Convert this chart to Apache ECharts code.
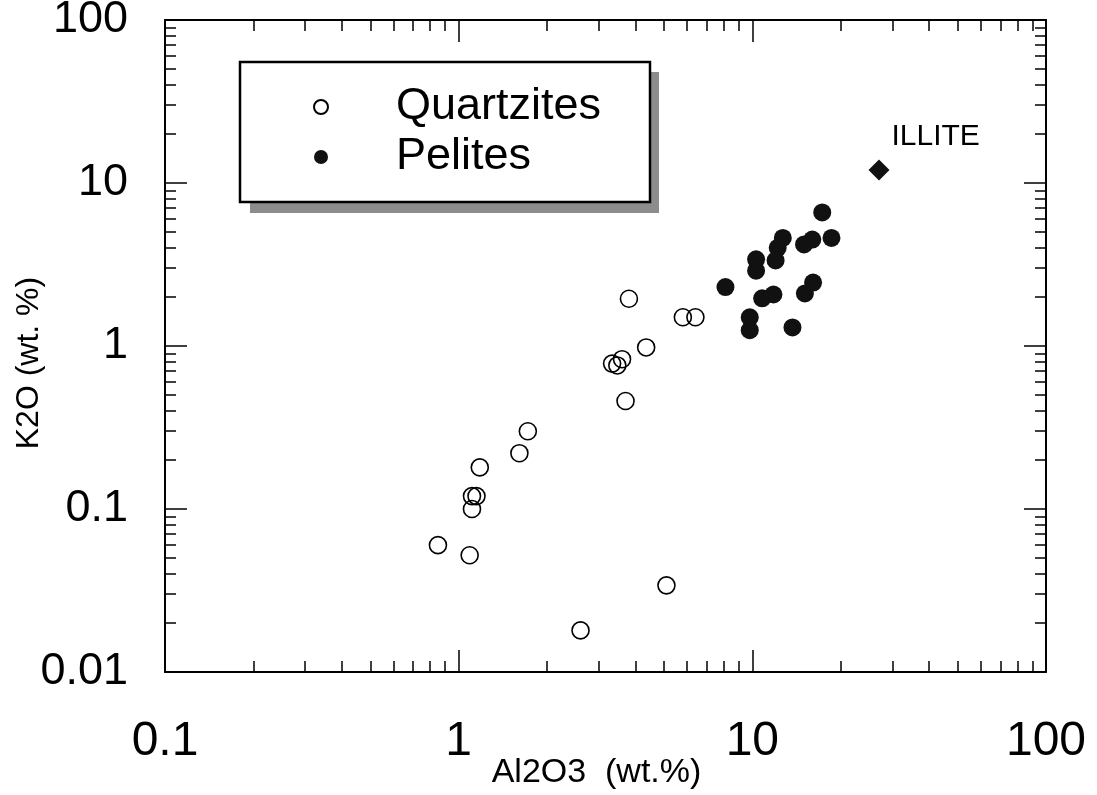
<!DOCTYPE html>
<html>
<head>
<meta charset="utf-8">
<script src="https://cdn.jsdelivr.net/npm/echarts@6/dist/echarts.min.js"></script>
<style>
html,body{margin:0;padding:0;background:#fff;}
#chart{width:1097px;height:795px;}
</style>
</head>
<body>
<div id="chart"></div>
<script>
// ---- data ----
const quartzAl = [0.85, 1.09, 1.11, 1.11, 1.15, 1.18, 1.61, 1.72, 2.6, 5.1, 3.33, 3.47, 3.6, 3.7, 4.35, 3.8, 5.8, 6.4];
const quartzK  = [0.060, 0.052, 0.10, 0.12, 0.12, 0.18, 0.22, 0.30, 0.018, 0.034, 0.78, 0.76, 0.83, 0.46, 0.98, 1.95, 1.5, 1.5];
const peliteAl = [17.3, 12.7, 12.2, 12.0, 15.0, 16.0, 18.6, 10.3, 10.3, 8.1, 10.8, 11.8, 15.1, 16.1, 9.8, 9.8, 13.7];
const peliteK  = [6.6, 4.6, 4.0, 3.35, 4.2, 4.5, 4.6, 3.4, 2.9, 2.3, 1.96, 2.07, 2.1, 2.45, 1.5, 1.25, 1.3];
const illiteAl = [27];
const illiteK  = [12];
const xTickValues = [0.1, 1, 10, 100];
const xTickLabels = ['0.1', '1', '10', '100'];
const yTickValues = [0.01, 0.1, 1, 10, 100];
const yTickLabels = ['0.01', '0.1', '1', '10', '100'];
const xMinorValues = [0.2,0.3,0.4,0.5,0.6,0.7,0.8,0.9, 2,3,4,5,6,7,8,9, 20,30,40,50,60,70,80,90];
const yMinorValues = [0.02,0.03,0.04,0.05,0.06,0.07,0.08,0.09, 0.2,0.3,0.4,0.5,0.6,0.7,0.8,0.9, 2,3,4,5,6,7,8,9, 20,30,40,50,60,70,80,90];
const seriesNames = ['Quartzites', 'Pelites'];

const FONT = '"Liberation Sans", Arial, Helvetica, sans-serif';
const chart = echarts.init(document.getElementById('chart'), null, {renderer: 'canvas'});

function zip(a, b) { return a.map((v, i) => [v, b[i]]); }

function logAxis(base, extra) {
  return Object.assign({
    type: 'log', logBase: 10, gridIndex: 0,
    splitLine: {show: false},
    axisLine: {show: false},
    axisLabel: {show: false},
    axisTick: {show: false}
  }, base, extra);
}

const xRange = {min: 0.1, max: 100};
const yRange = {min: 0.01, max: 100};
const lineStyle = {color: '#000', width: 2};
const tickStyle = {color: '#000', width: 1.5};

const option = {
  backgroundColor: '#fff',
  animation: false,
  grid: {left: 165, right: 51, top: 20, bottom: 123, containLabel: false, outerBoundsMode: 'none'},
  graphic: [{
    type: 'rect', z: 1, silent: true,
    shape: {x: 250, y: 72, width: 409, height: 141},
    style: {fill: '#8c8c8c'}
  }],
  legend: {
    data: seriesNames,
    orient: 'vertical',
    left: 240, top: 62,
    padding: [22, 24, 22, 73],
    itemGap: 4,
    itemWidth: 14, itemHeight: 14,
    backgroundColor: '#fff',
    borderColor: '#000', borderWidth: 2.5, borderRadius: 0,
    z: 5,
    selectedMode: false,
    textStyle: {fontFamily: FONT, fontSize: 45, color: '#000', lineHeight: 46, width: 230, padding: [0, 0, 0, 63]}
  },
  xAxis: [
    logAxis(xRange, {position: 'bottom',
      axisLine: {show: true, lineStyle: lineStyle, onZero: false},
      axisTick: {show: true, inside: true, length: 22, lineStyle: tickStyle, customValues: xTickValues},
      axisLabel: {show: true, margin: 46, fontFamily: FONT, fontSize: 48, color: '#000', customValues: xTickValues,
        formatter: v => xTickLabels[xTickValues.indexOf(v)] ?? String(v)},
      name: 'Al2O3  (wt.%)', nameLocation: 'middle', nameGap: 84, nameMoveOverlap: false,
      nameTextStyle: {fontFamily: FONT, fontSize: 34, color: '#000', padding: [0, 18, 0, 0]}
    }),
    logAxis(xRange, {position: 'bottom',
      axisTick: {show: true, inside: true, length: 11, lineStyle: tickStyle, customValues: xMinorValues}}),
    logAxis(xRange, {position: 'top',
      axisLine: {show: true, lineStyle: lineStyle, onZero: false},
      axisTick: {show: true, inside: true, length: 22, lineStyle: tickStyle, customValues: xTickValues}}),
    logAxis(xRange, {position: 'top',
      axisTick: {show: true, inside: true, length: 11, lineStyle: tickStyle, customValues: xMinorValues}})
  ],
  yAxis: [
    logAxis(yRange, {position: 'left',
      axisLine: {show: true, lineStyle: lineStyle, onZero: false},
      axisTick: {show: true, inside: true, length: 22, lineStyle: tickStyle, customValues: yTickValues},
      axisLabel: {show: true, margin: 37, fontFamily: FONT, fontSize: 45, color: '#000', customValues: yTickValues,
        formatter: v => yTickLabels[yTickValues.indexOf(v)] ?? String(v)},
      name: 'K2O (wt. %)', nameLocation: 'middle', nameGap: 120, nameMoveOverlap: false,
      nameTextStyle: {fontFamily: FONT, fontSize: 32, color: '#000', padding: [0, 34, 0, 0]}
    }),
    logAxis(yRange, {position: 'left',
      axisTick: {show: true, inside: true, length: 11, lineStyle: tickStyle, customValues: yMinorValues}}),
    logAxis(yRange, {position: 'right',
      axisLine: {show: true, lineStyle: lineStyle, onZero: false},
      axisTick: {show: true, inside: true, length: 22, lineStyle: tickStyle, customValues: yTickValues}}),
    logAxis(yRange, {position: 'right',
      axisTick: {show: true, inside: true, length: 11, lineStyle: tickStyle, customValues: yMinorValues}})
  ],
  series: [
    {
      name: seriesNames[0], type: 'scatter', xAxisIndex: 0, yAxisIndex: 0,
      symbol: 'circle', symbolSize: 17,
      itemStyle: {color: 'rgba(255,255,255,0)', borderColor: '#000', borderWidth: 1.6, opacity: 1},
      data: zip(quartzAl, quartzK)
    },
    {
      name: seriesNames[1], type: 'scatter', xAxisIndex: 0, yAxisIndex: 0,
      symbol: 'circle', symbolSize: 18,
      itemStyle: {color: '#111', opacity: 1},
      data: zip(peliteAl, peliteK)
    },
    {
      name: 'ILLITE', type: 'scatter', xAxisIndex: 0, yAxisIndex: 0,
      symbol: 'diamond', symbolSize: [21, 21],
      itemStyle: {color: '#111', opacity: 1},
      label: {show: true, formatter: 'ILLITE', position: 'right', distance: 2, offset: [0, -33],
        fontFamily: FONT, fontSize: 30, color: '#000'},
      data: zip(illiteAl, illiteK)
    }
  ]
};
chart.setOption(option);
</script>
</body>
</html>
